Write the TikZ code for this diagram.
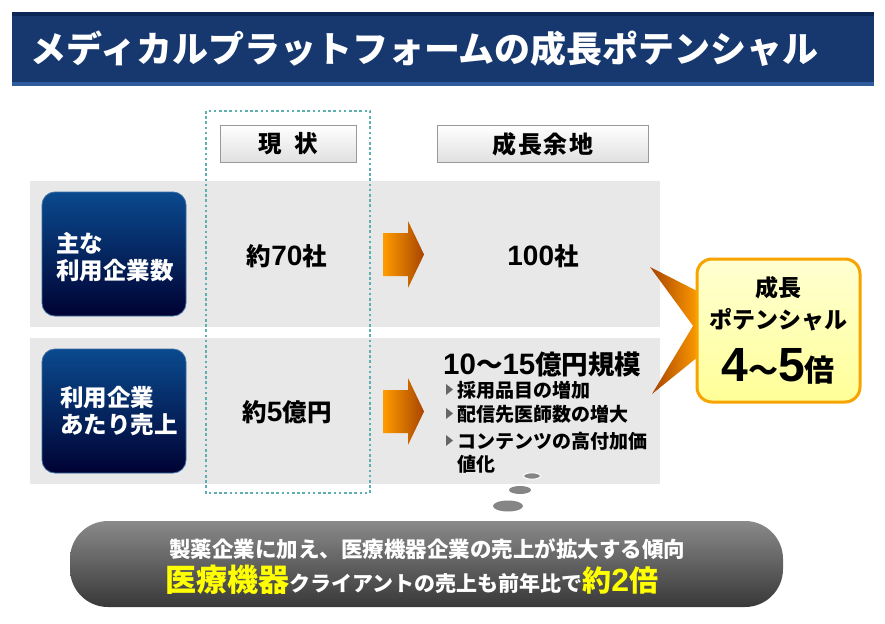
\documentclass[tikz,border=0pt]{standalone}
\usepackage{fontspec}
\setmainfont{Noto Sans CJK JP}
\newfontfamily\lat{Liberation Sans}
\definecolor{navy}{HTML}{17386F}
\definecolor{navydark}{HTML}{0C2756}
\definecolor{navylight}{HTML}{2E5C9C}
\definecolor{band}{HTML}{E8E8E8}
\definecolor{teal}{HTML}{5EAFAF}
\definecolor{boxtop}{HTML}{0A4A8E}
\definecolor{boxbot}{HTML}{000233}
\definecolor{arrowL}{HTML}{FF9C00}
\definecolor{arrowR}{HTML}{A84400}
\definecolor{calloutborder}{HTML}{F7A300}
\definecolor{callouttop}{HTML}{FFFFD2}
\definecolor{calloutbot}{HTML}{FFFF98}
\definecolor{hilite}{HTML}{FFFF00}
\tikzset{
  headbox/.style={draw=black!40, line width=1pt, top color=white, bottom color=black!12},
  bluebox/.style={draw=boxtop!80, line width=0.8pt, rounded corners=13pt, top color=boxtop, bottom color=boxbot},
  orangearrow/.style={left color=arrowL, right color=arrowR},
  bodytext/.style={font=\fontsize{24.5}{24.5}\selectfont\bfseries, text=black},
  bullettext/.style={font=\fontsize{19}{23}\selectfont\bfseries, text=black, anchor=west, inner sep=0pt},
  bullettri/.style={fill=black!60},
  bubble/.style={fill=black!48},
}
\begin{document}
\begin{tikzpicture}[x=1pt,y=-1pt]
\useasboundingbox (0,0) rectangle (885,623);
\fill[white] (0,0) rectangle (885,623);

% title bar
\fill[navy] (12,12) rectangle (874,86);
\fill[navydark] (12,12) rectangle (874,16);
\fill[navylight] (12,82) rectangle (874,86);
\node[anchor=west, text=white, font=\fontsize{36}{36}\selectfont\bfseries] (title) at (27,49) {メディカルプラットフォームの成長ポテンシャル};

% gray bands
\fill[band] (30,181) rectangle (660,327);
\fill[band] (30,338) rectangle (660,484);

% dotted column
\draw[teal, line width=2.6pt, dash pattern=on 2.6pt off 2.6pt] (206,111) rectangle (370,493);

% headers
\shade[headbox] (220,125) rectangle (356,162);
\node[font=\fontsize{23.5}{23.5}\selectfont\bfseries] (h1) at (288,144) {現\hspace{0.55em}状};
\shade[headbox] (437,125) rectangle (648,162);
\node[font=\fontsize{24}{24}\selectfont\bfseries] (h2) at (543,144) {成\hspace{0.06em}長\hspace{0.06em}余\hspace{0.06em}地};

% blue boxes
\shade[bluebox] (42,192) rectangle (186,316);
\node[anchor=west, align=left, text=white, font=\fontsize{23.5}{27}\selectfont\bfseries, inner sep=0pt] (b1) at (56,257) {主な\\利用企業数};
\shade[bluebox] (42,349) rectangle (186,473);
\node[anchor=west, align=left, text=white, font=\fontsize{23.5}{27}\selectfont\bfseries, inner sep=0pt] (b2) at (60,411) {利用企業\\あたり売上};

% current values
\node[bodytext] (c1) at (287,256) {約{\lat\fontsize{28}{28}\selectfont 70}社};
\node[bodytext] (c2) at (287,412) {約{\lat\fontsize{28}{28}\selectfont 5}億円};

% arrows
\shade[orangearrow] (383,233) -- (408,233) -- (408,221) -- (424,254.5) -- (408,288) -- (408,276) -- (383,276) -- cycle;
\shade[orangearrow] (383,390) -- (408,390) -- (408,378) -- (424,411.5) -- (408,445) -- (408,433) -- (383,433) -- cycle;

% growth values
\node[bodytext] (g1) at (543,256) {{\lat\fontsize{28}{28}\selectfont 100}社};
\node[anchor=west, inner sep=0pt, font=\fontsize{26.5}{26.5}\selectfont\bfseries] (g2) at (443,364) {{\lat\fontsize{29.5}{29.5}\selectfont 10}～{\lat\fontsize{29.5}{29.5}\selectfont 15}億円規模};

\fill[bullettri] (446,384) -- (453,389.5) -- (446,395) -- cycle;
\node[bullettext] (l1) at (457,390) {採用品目の増加};
\fill[bullettri] (446,408) -- (453,413.5) -- (446,419) -- cycle;
\node[bullettext] (l2) at (457,414) {配信先医師数の増大};
\fill[bullettri] (446,435) -- (453,440.5) -- (446,446) -- cycle;
\node[bullettext] (l3) at (457,441) {コンテンツの高付加価};
\node[bullettext] (l4) at (457,464) {値化};

% thought bubbles
\fill[bubble, draw=white, line width=1pt] (532,476) ellipse (8.5pt and 3.2pt);
\fill[bubble] (520,490) ellipse (11pt and 4pt);
\fill[bubble] (508,506) ellipse (15pt and 5.5pt);

% callout pointers
\shade[left color=arrowR, right color=arrowL] (650,267) -- (699,292) -- (699,334) -- cycle;
\shade[left color=arrowR, right color=arrowL] (652,394) -- (699,316) -- (699,356) -- cycle;
% callout box
\shade[draw=calloutborder, line width=3pt, rounded corners=15pt, top color=callouttop, bottom color=calloutbot] (697,259) rectangle (860,402);
\node[font=\fontsize{23}{23}\selectfont\bfseries] (p1) at (778,288) {成長};
\node[font=\fontsize{23}{23}\selectfont\bfseries] (p2) at (778,320) {ポテンシャル};
\node[font=\fontsize{30}{30}\selectfont\bfseries] (p3) at (778,366) {{\lat\fontsize{48}{48}\selectfont 4}～{\lat\fontsize{48}{48}\selectfont 5}倍};

% bottom bar
\shade[rounded corners=38pt, top color=black!46, bottom color=black!78] (70,521) rectangle (783,607);
\node[text=white, font=\fontsize{21.5}{22}\selectfont\bfseries] (t1) at (427,549) {製薬企業に加え、医療機器企業の売上が拡大する傾向};
\node[anchor=west, inner sep=0pt, font=\bfseries] (t2) at (165,580) {\textcolor{hilite}{\fontsize{31}{31}\selectfont 医療機器}\textcolor{white}{\fontsize{21}{21}\selectfont クライアントの売上も前年比で}\textcolor{hilite}{\fontsize{29}{29}\selectfont 約{\lat\fontsize{32}{32}\selectfont 2}倍}};
\end{tikzpicture}
\end{document}
